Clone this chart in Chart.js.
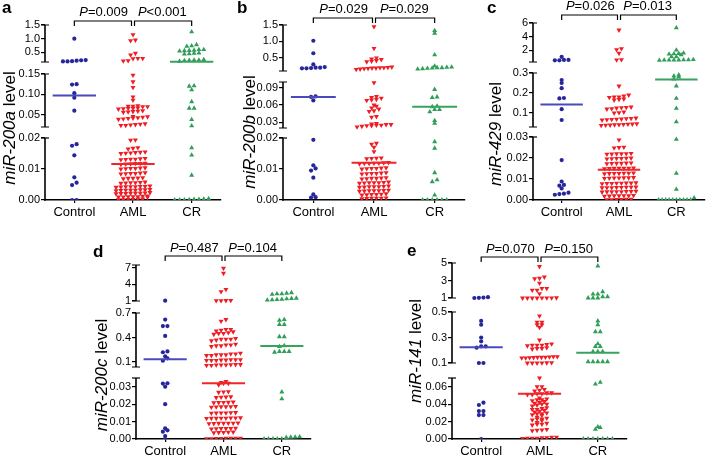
<!DOCTYPE html>
<html lang="en">
<head>
<meta charset="UTF-8" />
<title>miR-200 family levels</title>
<script src="https://cdn.jsdelivr.net/npm/chart.js"></script>
<style>
  body { margin: 0; background: #fff; font-family: 'Liberation Sans', Arial, sans-serif; }
  #wrap { position: relative; width: 709px; height: 459px; overflow: hidden; }
  canvas { position: absolute; }
  .letter { position: absolute; font-weight: bold; font-size: 17px; line-height: 1; }
  .ytitle { position: absolute; font-size: 17px; line-height: 1; white-space: nowrap;
            transform: translate(-50%, -50%) rotate(-90deg); }
</style>
</head>
<body>
<div id="wrap"></div>

<script>
  const categories = ['Control', 'AML', 'CR'];

  // a: miR-200a
  const ctrlA = [1.0, 0.22, 0.21, 0.2, 0.17, 0.17, 0.18, 0.125, 0.124, 0.103, 0.092, 0.06,
    0.018, 0.0175, 0.0144, 0.0073, 0.0056, 0.0048, 0, 0];
  const amlA = [1.15, 0.95, 0.93, 0.47, 0.41, 0.28, 0.27, 0.28, 0.2, 0.19,
    0.147, 0.131, 0.117, 0.094, 0.086,
    0.072, 0.071, 0.071, 0.07, 0.07, 0.067, 0.066, 0.066, 0.065, 0.064,
    0.06, 0.059, 0.058, 0.057, 0.056,
    0.046, 0.045, 0.044, 0.043, 0.042, 0.041, 0.04, 0.039,
    0.028, 0.027, 0.026, 0.025, 0.024, 0.024,
    0.0194, 0.0193, 0.0169, 0.0167, 0.0165,
    0.0155, 0.0154, 0.0152, 0.0151, 0.015, 0.0153,
    0.0133, 0.0132, 0.0131, 0.013, 0.0134, 0.0132,
    0.0118, 0.0119, 0.0117, 0.0116, 0.0118, 0.0115,
    0.0102, 0.0103, 0.0101, 0.01, 0.0104, 0.0102,
    0.0086, 0.0087, 0.0085, 0.0088, 0.0086, 0.0084,
    0.007, 0.0071, 0.0069, 0.0072, 0.007,
    0.0056, 0.0057, 0.0055, 0.0056, 0.0058, 0.0054,
    0.0043, 0.0044, 0.0042, 0.0043, 0.0045, 0.0041, 0.0043, 0.0044,
    0.0032, 0.0033, 0.0031, 0.0032, 0.0034, 0.003, 0.0032, 0.0033,
    0.0022, 0.0021, 0.0023, 0.0022, 0.002, 0.0024, 0.0021, 0.0022,
    0.0011, 0.0012, 0.001, 0.0011, 0.0013, 0.0009, 0.0011, 0.001,
    0.0002, 0.0003, 0.0001, 0.0002, 0.0003, 0.0001];
  const crA = [1.25, 0.78, 0.74, 0.72, 0.6, 0.58, 0.57, 0.55, 0.6, 0.56, 0.47, 0.45, 0.44, 0.48,
    0.24, 0.22, 0.21, 0.2, 0.22, 0.18,
    0.12, 0.121, 0.111, 0.082, 0.066, 0.066, 0.038, 0.023,
    0.0168, 0.0145, 0.008, 0.0004, 0.0003, 0.0002, 0.0002, 0.0001, 0, 0, 0];
  const medA = [0.097, 0.0116, 0.16];
  const pA = ['=0.009', '<0.001'];
  const ticksA = [['0.00', '0.01', '0.02'], ['0.05', '0.10', '0.15'], ['0.5', '1.0', '1.5']];

  // b: miR-200b
  const ctrlB = [1.02, 0.64, 0.3, 0.22, 0.2, 0.19, 0.18, 0.18, 0.2, 0.075, 0.074, 0.068,
    0.0194, 0.0112, 0.0102, 0.0095, 0.0072, 0.0018, 0.0008, 0.0009];
  const amlB = [1.45, 0.79, 0.5, 0.47, 0.45, 0.42, 0.4, 0.38,
    0.22, 0.21, 0.2, 0.2, 0.19, 0.19, 0.18, 0.17, 0.16, 0.15,
    0.099, 0.075, 0.073, 0.072, 0.07, 0.069, 0.068, 0.06, 0.058, 0.055, 0.053, 0.05, 0.049, 0.04, 0.039,
    0.028, 0.027, 0.026, 0.026, 0.025, 0.025, 0.024, 0.024, 0.023, 0.022,
    0.0183, 0.018, 0.017, 0.0156, 0.0135, 0.0136, 0.0134, 0.0133,
    0.0119, 0.0118, 0.012, 0.0117, 0.0118, 0.0121, 0.0119,
    0.0102, 0.0103, 0.0101, 0.0104, 0.01, 0.0102,
    0.0086, 0.0087, 0.0085, 0.0088, 0.0086, 0.0084,
    0.007, 0.0071, 0.0069, 0.0072, 0.007, 0.0068,
    0.0056, 0.0057, 0.0055, 0.0056, 0.0058, 0.0054, 0.0056,
    0.0043, 0.0044, 0.0042, 0.0043, 0.0045, 0.0041, 0.0043,
    0.003, 0.0031, 0.0029, 0.003, 0.0032, 0.0028, 0.003,
    0.0018, 0.0019, 0.0017, 0.0018, 0.002, 0.0016,
    0.0006, 0.0007, 0.0005, 0.0006, 0.0004, 0.0006];
  const crB = [1.33, 1.25, 0.59, 0.25, 0.22, 0.2, 0.19, 0.18, 0.17, 0.16, 0.2, 0.21,
    0.087, 0.074, 0.073, 0.058, 0.057, 0.052, 0.052, 0.048, 0.033, 0.028,
    0.0188, 0.0167, 0.0088, 0.0065, 0.0059, 0.0016, 0, 0, 0, 0, 0, 0];
  const medB = [0.074, 0.012, 0.057];
  const pB = ['=0.029', '=0.029'];
  const ticksB = [['0.00', '0.01', '0.02'], ['0.03', '0.06', '0.09'], ['0.5', '1.0', '1.5']];

  // c: miR-429
  const ctrlC = [1.05, 0.6, 0.55, 0.55, 0.6, 0.265, 0.25, 0.224, 0.173, 0.175, 0.119, 0.065,
    0.019, 0.0088, 0.0072, 0.0068, 0.0055, 0.0035, 0.0028, 0.0025, 0.003];
  const amlC = [4.97, 2.25, 2.1, 1.57, 0.64, 0.6, 0.235,
    0.185, 0.18, 0.178, 0.18, 0.19, 0.17, 0.168, 0.165,
    0.13, 0.128, 0.127, 0.125, 0.122, 0.12, 0.105, 0.102, 0.1,
    0.075, 0.073, 0.072, 0.07, 0.069, 0.068, 0.067, 0.065,
    0.046, 0.045, 0.044, 0.043, 0.042, 0.041, 0.04, 0.039, 0.038,
    0.0286, 0.025, 0.0252, 0.0248, 0.022, 0.0222, 0.0218, 0.0221, 0.0219, 0.022,
    0.0198, 0.02, 0.0197, 0.0199, 0.0196, 0.0198,
    0.0175, 0.0176, 0.0174, 0.0177, 0.0173, 0.0175,
    0.0151, 0.0152, 0.015, 0.0153, 0.0149, 0.0151, 0.0152,
    0.0127, 0.0128, 0.0126, 0.0129, 0.0125, 0.0127, 0.0128,
    0.0105, 0.0106, 0.0104, 0.0107, 0.0103, 0.0105, 0.0106,
    0.008, 0.0081, 0.0079, 0.0082, 0.0078, 0.008, 0.0081, 0.0079,
    0.006, 0.0061, 0.0059, 0.0062, 0.0058, 0.006, 0.0061, 0.0059,
    0.004, 0.0041, 0.0039, 0.0042, 0.0038, 0.004, 0.0041, 0.0039,
    0.002, 0.0021, 0.0019, 0.0022, 0.0018, 0.002, 0.0021,
    0.0003, 0.0004, 0.0002, 0.0003, 0.0002, 0.0004];
  const crC = [5.3, 2.05, 1.6, 1.5, 1.55, 1.45, 1.35, 1.07, 1.05,
    0.65, 0.6, 0.62, 0.58, 0.55, 0.6, 0.58, 0.62,
    0.285, 0.29, 0.28, 0.27, 0.235, 0.173, 0.123, 0.056,
    0.0289, 0.0127, 0.0051, 0.001, 0, 0, 0, 0, 0, 0, 0, 0, 0, 0];
  const medC = [0.143, 0.0144, 0.268];
  const pC = ['=0.026', '=0.013'];
  const ticksC = [['0.00', '0.01', '0.02', '0.03'], ['0.1', '0.2', '0.3'], ['2', '4', '6']];

  // d: miR-200c
  const ctrlD = [1.05, 0.62, 0.54, 0.54, 0.42, 0.23, 0.22, 0.17, 0.146, 0.117,
    0.032, 0.0318, 0.03, 0.02, 0.0061, 0.005, 0.0042, 0.0017, 0];
  const amlD = [6.9, 6.0, 3.1, 2.7, 1.1, 1.05, 1.05, 1.08, 0.62, 0.6,
    0.5, 0.49, 0.48, 0.5, 0.47, 0.45, 0.44, 0.46, 0.45,
    0.38, 0.39, 0.37, 0.38, 0.36, 0.38, 0.31, 0.3, 0.32, 0.31, 0.29, 0.3,
    0.2, 0.19, 0.2, 0.18, 0.19, 0.21, 0.19, 0.18,
    0.13, 0.12, 0.125, 0.13, 0.12, 0.125, 0.12, 0.13,
    0.065, 0.07, 0.06, 0.065, 0.07, 0.06, 0.065, 0.068,
    0.033, 0.032, 0.032, 0.031, 0.0325,
    0.027, 0.0272, 0.0268, 0.024, 0.0242, 0.0238, 0.0241,
    0.021, 0.0212, 0.0208, 0.0211, 0.0209,
    0.0185, 0.0186, 0.0184, 0.0187, 0.0183, 0.0185,
    0.015, 0.0152, 0.0149, 0.0151, 0.0148, 0.015,
    0.012, 0.0121, 0.0119, 0.0122, 0.0118, 0.012, 0.0121, 0.0119,
    0.009, 0.0091, 0.0089, 0.0092, 0.0088, 0.009, 0.0091,
    0.006, 0.0061, 0.0059, 0.0062, 0.0058, 0.006,
    0.0038, 0.0039, 0.0037, 0.004, 0.0036,
    0.0004, 0.0003, 0.0005, 0.0002, 0.0004, 0.0003, 0.0005, 0.0002];
  const crD = [2.4, 2.3, 2.5, 2.2, 2.3, 1.5, 1.45, 1.3, 1.2, 1.15, 1.25, 1.4,
    0.61, 0.56, 0.56, 0.62, 0.41, 0.41, 0.3, 0.29, 0.23, 0.23, 0.22, 0.23,
    0.027, 0.023, 0.0012, 0.0011, 0.001, 0.0009, 0, 0, 0, 0, 0];
  const medD = [0.134, 0.032, 0.296];
  const pD = ['=0.487', '=0.104'];
  const ticksD = [['0.00', '0.01', '0.02', '0.03'], ['0.1', '0.4', '0.7'], ['1', '4', '7']];

  // e: miR-141
  const ctrlE = [1.1, 1.05, 1.0, 1.02, 0.43, 0.4, 0.3, 0.27, 0.23, 0.23, 0.22, 0.1, 0.1,
    0.0417, 0.039, 0.032, 0.032, 0.0275, 0.0275, 0];
  const amlE = [4.6, 3.4, 3.25, 3.2, 2.7, 2.1, 2.1, 1.9, 1.9, 1.5,
    1.0, 1.02, 1.0, 1.03, 1.0, 1.01, 1.02, 1.0,
    0.47, 0.42, 0.42, 0.4, 0.4, 0.38, 0.28, 0.25, 0.24, 0.24, 0.245, 0.235, 0.24, 0.215, 0.22, 0.21, 0.215,
    0.15, 0.145, 0.14, 0.148, 0.142, 0.146, 0.15, 0.14, 0.145, 0.143,
    0.1, 0.102, 0.101, 0.1, 0.103, 0.1,
    0.07, 0.06, 0.06, 0.056, 0.057, 0.055, 0.052, 0.053, 0.051, 0.052, 0.053, 0.051,
    0.045, 0.046, 0.044, 0.045, 0.047, 0.043,
    0.04, 0.041, 0.039, 0.04, 0.042, 0.038,
    0.034, 0.035, 0.033, 0.034, 0.036, 0.032,
    0.029, 0.03, 0.028, 0.029, 0.031, 0.027,
    0.023, 0.024, 0.022, 0.023, 0.025, 0.021,
    0.017, 0.018, 0.016, 0.017, 0.019,
    0.01, 0.011, 0.0095, 0.0105,
    0.002, 0.001, 0.0015, 0.0005, 0.001, 0.002, 0.0015, 0.001];
  const crE = [4.66, 1.72, 1.45, 1.45, 1.15, 1.15, 1.0, 1.0, 1.0,
    0.43, 0.4, 0.345, 0.345, 0.25, 0.23, 0.23, 0.19, 0.19, 0.19, 0.11, 0.11, 0.11, 0.11, 0.11,
    0.065, 0.063, 0.014, 0.013, 0.011, 0, 0, 0, 0, 0, 0, 0];
  const medE = [0.223, 0.052, 0.18];
  const pE = ['=0.070', '=0.150'];
  const ticksE = [['0.00', '0.02', '0.04', '0.06'], ['0.1', '0.3', '0.5'], ['1', '3', '5']];

  // layout of each panel (page pixels); segs = [lo, hi, fromPx, toPx] measured up from the x axis
  const FAM = "'Liberation Sans', Arial, sans-serif";
  const colors = ['#26269a', '#ee1d24', '#2f9e58'];
  const medColors = ['#4a4abc', '#f0262b', '#38a25f'];
  const panels = [
    { letter: 'a', mir: 'miR-200a', groups: [ctrlA, amlA, crA], med: medA, p: pA, ticks: ticksA,
      segs: [[0, 0.02, 0, 62], [0.02, 0.15, 73, 126], [0.15, 1.5, 138, 175]],
      ax: 45, xr: 223, top: 0, by: 200, brY: 21, pY: 12, lx: 2, ly: -1, tx: 9, ty: 128 },
    { letter: 'b', mir: 'miR-200b', groups: [ctrlB, amlB, crB], med: medB, p: pB, ticks: ticksB,
      segs: [[0, 0.02, 0, 62], [0.02, 0.1, 72, 118], [0.1, 1.5, 129, 175]],
      ax: 283, xr: 467, top: 0, by: 200, brY: 18, pY: 9, lx: 237, ly: -1, tx: 249, ty: 132 },
    { letter: 'c', mir: 'miR-429', groups: [ctrlC, amlC, crC], med: medC, p: pC, ticks: ticksC,
      segs: [[0, 0.03, 0, 63], [0.03, 0.3, 73, 127], [0.3, 6, 138, 177]],
      ax: 533, xr: 707, top: 0, by: 200, brY: 15, pY: 6, lx: 487, ly: -1, tx: 495, ty: 134 },
    { letter: 'd', mir: 'miR-200c', groups: [ctrlD, amlD, crD], med: medD, p: pD, ticks: ticksD,
      segs: [[0, 0.035, 0, 61], [0.04, 0.7, 72, 126], [1, 7.5, 138, 174]],
      ax: 136, xr: 313, top: 235, by: 439, brY: 256, pY: 248, lx: 93, ly: 243, tx: 101, ty: 375 },
    { letter: 'e', mir: 'miR-141', groups: [ctrlE, amlE, crE], med: medE, p: pE, ticks: ticksE,
      segs: [[0, 0.07, 0, 61], [0.1, 0.5, 76, 127], [1, 5, 141, 176]],
      ax: 452, xr: 629, top: 235, by: 439, brY: 257, pY: 249, lx: 407, ly: 242, tx: 415, ty: 351 }
  ];

  Chart.defaults.font.family = FAM;
  Chart.defaults.color = '#000';

  // piecewise mapping of a value onto the broken axis
  function makeT(segs) {
    return v => {
      for (const [lo, hi, p0, p1] of segs) {
        if (v >= lo && v <= hi) return p0 + (v - lo) / (hi - lo) * (p1 - p0);
      }
      let best = 0, bd = Infinity;
      for (const [lo, hi, p0, p1] of segs) {
        if (Math.abs(v - lo) < bd) { bd = Math.abs(v - lo); best = p0; }
        if (Math.abs(v - hi) < bd) { bd = Math.abs(v - hi); best = p1; }
      }
      return best;
    };
  }

  // GraphPad-style rows: points within a few px share a row and spread sideways,
  // squeezed together once a row gets wider than maxW
  function swarm(vals, T, g, stepPx, maxW, unitPx) {
    const ys = vals.map(T).sort((a, b) => a - b);
    const out = [];
    let i = 0;
    while (i < ys.length) {
      let j = i;
      while (j < ys.length && ys[j] - ys[i] < 2.5) j++;
      const n = j - i;
      const st = n > 1 ? Math.min(stepPx, maxW / (n - 1)) / unitPx : 0;
      for (let k = 0; k < n; k++) out.push({ x: g + (k - (n - 1) / 2) * st, y: ys[i + k] });
      i = j;
    }
    return out;
  }

  const wrap = document.getElementById('wrap');
  const YW = 44, XH = 26, PR = 2;

  panels.forEach(P => {
    const T = makeT(P.segs);
    const unitPx = (P.xr - P.ax) / 3;

    const cv = document.createElement('canvas');
    const W = YW + (P.xr - P.ax) + PR, H = (P.by - P.top) + XH;
    cv.width = W; cv.height = H;
    cv.style.left = (P.ax - YW) + 'px';
    cv.style.top = P.top + 'px';
    cv.style.width = W + 'px'; cv.style.height = H + 'px';
    wrap.appendChild(cv);

    const lt = document.createElement('div');
    lt.className = 'letter'; lt.textContent = P.letter;
    lt.style.left = P.lx + 'px'; lt.style.top = P.ly + 'px';
    wrap.appendChild(lt);

    const tt = document.createElement('div');
    tt.className = 'ytitle';
    tt.innerHTML = '<i>' + P.mir + '</i> level';
    tt.style.left = P.tx + 'px'; tt.style.top = P.ty + 'px';
    wrap.appendChild(tt);

    const tickVals = [], tickLabels = [];
    P.ticks.forEach((list, si) => {
      const [lo, hi, p0, p1] = P.segs[si];
      list.forEach(s => {
        const v = parseFloat(s);
        tickVals.push(p0 + (v - lo) / (hi - lo) * (p1 - p0));
        tickLabels.push(s);
      });
    });
    const topPx = P.segs[2][3];
    const chartTop = P.by - topPx;

    const datasets = [];
    P.groups.forEach((vals, g) => {
      const tri = g > 0;
      datasets.push({
        type: 'scatter',
        data: tri ? swarm(vals, T, g, 4.9, 36, unitPx) : swarm(vals, T, g, 4.6, 30, unitPx),
        pointStyle: tri ? 'triangle' : 'circle',
        rotation: g === 1 ? 180 : 0,
        pointRadius: tri ? 2.9 : 2.1,
        backgroundColor: colors[g],
        borderWidth: 0,
        order: 1
      });
      datasets.push({
        type: 'line',
        data: [{ x: g - 0.37, y: T(P.med[g]) }, { x: g + 0.37, y: T(P.med[g]) }],
        borderColor: medColors[g],
        borderWidth: 2,
        pointRadius: 0,
        order: 0
      });
    });

    const brokenAxis = {
      id: 'brokenAxis',
      afterDraw(chart) {
        const { ctx, chartArea: ca, scales: { x, y } } = chart;
        ctx.save();
        ctx.strokeStyle = '#000';
        P.segs.forEach(([lo, hi, p0, p1]) => {
          const y0 = y.getPixelForValue(p0), y1 = y.getPixelForValue(p1);
          ctx.lineWidth = 1.6;
          ctx.beginPath();
          ctx.moveTo(ca.left, p0 === 0 ? y0 + 0.8 : y0);
          ctx.lineTo(ca.left, y1);
          ctx.stroke();
          ctx.lineWidth = 1.2;
          ctx.beginPath();
          if (p0 > 0) { ctx.moveTo(ca.left - 4, y0); ctx.lineTo(ca.left + 4, y0); }
          ctx.moveTo(ca.left - 4, y1); ctx.lineTo(ca.left + 4, y1);
          ctx.stroke();
        });

        // significance brackets
        const x0 = x.getPixelForValue(0), x1 = x.getPixelForValue(1), x2 = x.getPixelForValue(2);
        const yb = P.brY - P.top;
        ctx.lineWidth = 1.2;
        [[x0, x1 - 1.5], [x1 + 1.5, x2]].forEach(([a, b]) => {
          ctx.beginPath();
          ctx.moveTo(a, yb + 5); ctx.lineTo(a, yb); ctx.lineTo(b, yb); ctx.lineTo(b, yb + 5);
          ctx.stroke();
        });

        const ptext = (cx, cy, rest) => {
          ctx.font = 'italic 13px ' + FAM;
          const w1 = ctx.measureText('P').width;
          ctx.font = '13px ' + FAM;
          const w2 = ctx.measureText(rest).width;
          const xs = cx - (w1 + w2) / 2;
          ctx.fillStyle = '#000';
          ctx.textBaseline = 'middle';
          ctx.textAlign = 'left';
          ctx.font = 'italic 13px ' + FAM;
          ctx.fillText('P', xs, cy);
          ctx.font = '13px ' + FAM;
          ctx.fillText(rest, xs + w1, cy);
        };
        ptext((x0 + x1) / 2, P.pY - P.top, P.p[0]);
        ptext((x1 + x2) / 2, P.pY - P.top, P.p[1]);
        ctx.restore();
      }
    };

    new Chart(cv, {
      type: 'scatter',
      data: { datasets },
      options: {
        responsive: false,
        animation: false,
        devicePixelRatio: 1,
        layout: { padding: { top: chartTop - P.top, right: PR, left: 0, bottom: 0 } },
        plugins: { legend: { display: false }, tooltip: { enabled: false } },
        scales: {
          x: {
            type: 'linear', min: -0.5, max: 2.5,
            afterBuildTicks: s => { s.ticks = [0, 1, 2].map(v => ({ value: v })); },
            afterFit: s => { s.height = XH; },
            ticks: { callback: v => categories[v], font: { size: 13 }, padding: 2, maxRotation: 0, autoSkip: false },
            grid: { drawOnChartArea: false, drawTicks: true, tickLength: 3, color: '#000', lineWidth: 1.2 },
            border: { display: true, color: '#000', width: 1.6 }
          },
          y: {
            type: 'linear', min: 0, max: topPx,
            afterBuildTicks: s => { s.ticks = tickVals.map(v => ({ value: v })); },
            afterFit: s => { s.width = YW; },
            ticks: { callback: (v, i) => tickLabels[i], font: { size: 11 }, padding: 1, autoSkip: false },
            grid: { drawOnChartArea: false, drawTicks: true, tickLength: 4, color: '#000', lineWidth: 1.2 },
            border: { display: false }
          }
        }
      },
      plugins: [brokenAxis]
    });
  });
</script>
</body>
</html>
